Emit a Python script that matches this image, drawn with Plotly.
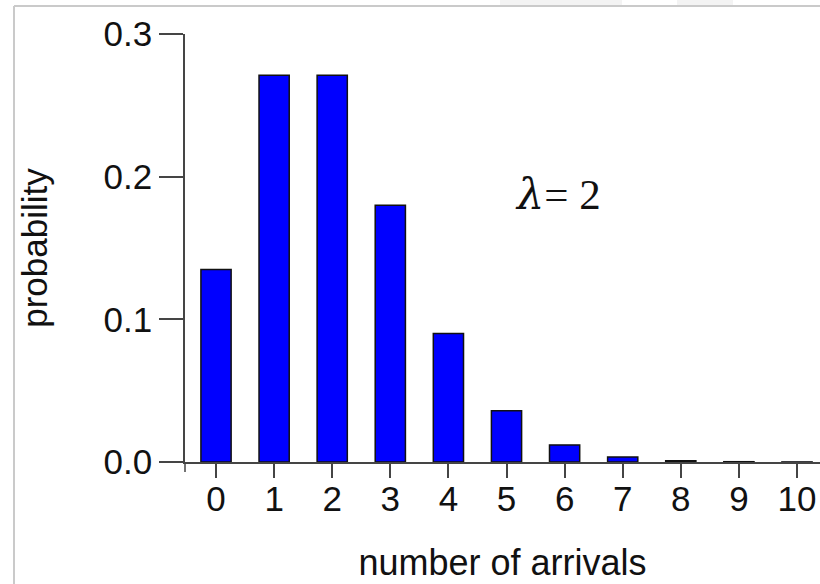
import plotly.graph_objects as go

arrivals = [0, 1, 2, 3, 4, 5, 6, 7, 8, 9, 10]
probability = [0.135, 0.271, 0.271, 0.180, 0.090, 0.036, 0.012, 0.0035, 0.0009, 0.0002, 0.00004]
y_ticks = [0.0, 0.1, 0.2, 0.3]
y_tick_labels = ["0.0", "0.1", "0.2", "0.3"]
x_tick_labels = [str(a) for a in arrivals]

W, H = 820, 584
ML, MR, MT, MB = 185, 0, 34, 122
PW, PH = W - ML - MR, H - MT - MB

axis_col = "#454545"
font_fam = "Liberation Sans, Arial, sans-serif"

fig = go.Figure(go.Bar(
    x=arrivals, y=probability, width=0.52,
    marker=dict(color="#0000FF", line=dict(color="#111111", width=1.5)),
))

def px_x(p):
    return (p - ML) / PW

def px_y(p):
    return (H - MB - p) / PH

shapes = [
    # extension of y axis line below zero
    dict(type="line", xref="paper", yref="paper", x0=0, x1=0, y0=px_y(472), y1=0,
         line=dict(color=axis_col, width=1.5)),
    # light grey image frame
    dict(type="line", xref="paper", yref="paper", x0=px_x(14), x1=px_x(14), y0=px_y(H + 5), y1=px_y(6),
         line=dict(color="#cacaca", width=2)),
    dict(type="line", xref="paper", yref="paper", x0=px_x(14), x1=px_x(W + 5), y0=px_y(6), y1=px_y(6),
         line=dict(color="#cacaca", width=2)),
    dict(type="rect", xref="paper", yref="paper", x0=px_x(500), x1=px_x(622), y0=px_y(5), y1=px_y(0),
         line=dict(width=0), fillcolor="#f3f3f3"),
    dict(type="rect", xref="paper", yref="paper", x0=px_x(677), x1=px_x(733), y0=px_y(5), y1=px_y(0),
         line=dict(width=0), fillcolor="#f3f3f3"),
]

fig.update_layout(
    width=W, height=H,
    margin=dict(l=ML, r=MR, t=MT, b=MB, pad=0),
    paper_bgcolor="white", plot_bgcolor="white",
    showlegend=False,
    font=dict(family=font_fam, size=35, color="#111111"),
    shapes=shapes,
    annotations=[dict(
        x=5.88, y=0.188, xref="x", yref="y", showarrow=False,
        text='<span style="font-family:DejaVu Serif"><i>λ</i></span>=\u00a02',
        font=dict(family="Liberation Serif, Times New Roman, serif", size=43, color="#111111"),
    )],
    xaxis=dict(
        range=[-0.534, 10.396], tickvals=arrivals, ticktext=x_tick_labels,
        showline=True, linecolor=axis_col, linewidth=1.5,
        ticks="outside", ticklen=14, tickwidth=1.5, tickcolor=axis_col,
        ticklabelstandoff=-9,
        showgrid=False, zeroline=False,
        title=dict(text="number of arrivals", font=dict(size=36), standoff=33),
    ),
    yaxis=dict(
        range=[0, 0.3], tickvals=y_ticks, ticktext=y_tick_labels,
        showline=True, linecolor=axis_col, linewidth=1.5,
        ticks="outside", ticklen=24, tickwidth=1.5, tickcolor=axis_col,
        showgrid=False, zeroline=False,
        title=dict(text="probability", font=dict(size=35), standoff=45),
    ),
)

fig.write_html(
    "out.html",
    config={"displayModeBar": False},
    post_script="document.body.style.margin='0';document.body.style.overflow='hidden';",
)
